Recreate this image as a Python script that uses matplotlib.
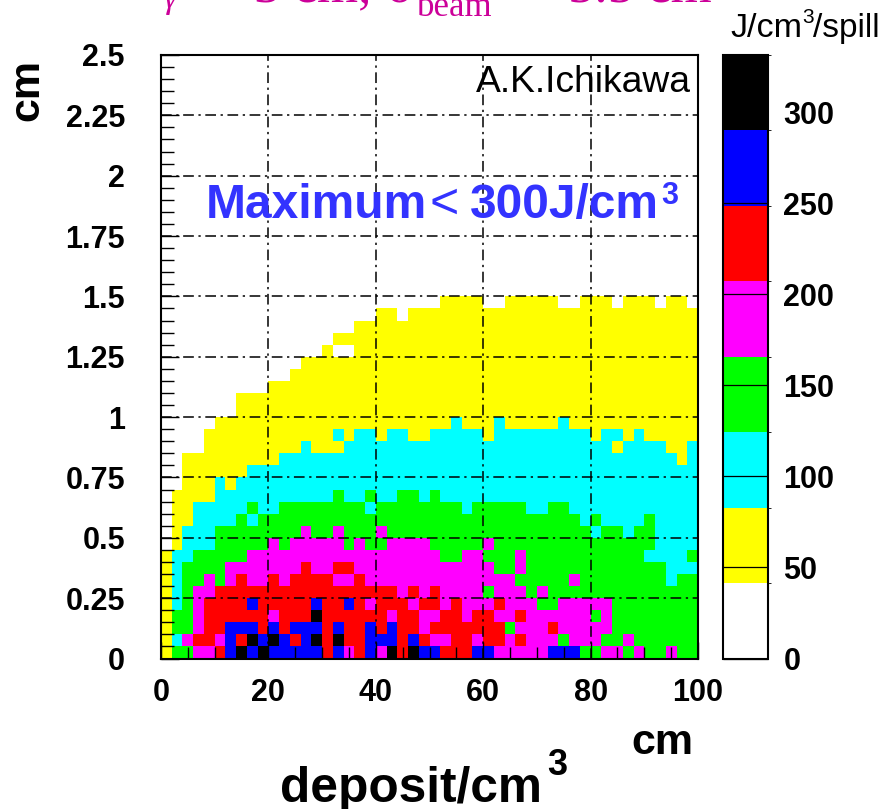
import numpy as np
import matplotlib
matplotlib.use("Agg")
from matplotlib import pyplot as plt
from matplotlib.colors import ListedColormap, BoundaryNorm

# colour band of every cell, bottom row first, left column first
rows = [
    "13344 56767 66666 56456 47576 65556 64444 46663 34434 33433",
    "12455 46576 76567 57556 66565 44554 55454 44344 43343 33333",
    "13345 56665 65666 56556 56554 55555 55344 45444 44333 33333",
    "13345 55555 45557 55555 54554 45545 54454 44444 34333 33333",
    "12345 55565 55556 55654 55545 54544 45444 33444 44333 33333",
    "12344 55555 55555 55555 55454 54444 34443 43333 33333 33333",
    "12334 34544 54555 54454 44444 44444 44433 33343 33333 33233",
    "12333 34444 44454 45544 44444 44444 43343 33333 33333 33222",
    "12233 33344 44444 44444 44444 43344 33343 33333 33333 22223",
    "01222 33333 43444 44343 34444 33333 43333 33333 33333 32222",
    "01222 33333 33343 34333 43333 33333 33333 33333 23323 32222",
    "01122 22323 33333 33333 33333 33333 33333 33332 32222 32222",
    "01122 22232 23333 33332 33333 33323 33332 23322 22222 22222",
    "01111 22222 22222 23223 22332 32222 22222 22222 22222 22222",
    "00111 21222 22222 22222 22222 22222 22222 22222 22222 22222",
    "00111 11122 22222 22222 22222 22222 22222 22222 22222 22222",
    "00111 11111 12222 22222 22222 22222 22222 22222 22222 22212",
    "00001 11111 11121 11222 22222 22222 22222 22222 22122 22112",
    "00001 11111 11111 12122 12211 22222 12222 22222 12212 11111",
    "00000 11111 11111 11111 11111 11211 12111 11211 11111 11111",
    "00000 00111 11111 11111 11111 11111 11111 11111 11111 11111",
    "00000 00111 11111 11111 11111 11111 11111 11111 11111 11111",
    "00000 00000 11111 11111 11111 11111 11111 11111 11111 11111",
    "00000 00000 00111 11111 11111 11111 11111 11111 11111 11111",
    "00000 00000 00011 11111 11111 11111 11111 11111 11111 11111",
    "00000 00000 00000 10011 11111 11111 11111 11111 11111 11111",
    "00000 00000 00000 01111 11111 11111 11111 11111 11111 11111",
    "00000 00000 00000 00011 11111 11111 11111 11111 11111 11111",
    "00000 00000 00000 00000 11011 11111 11111 11111 11111 11111",
    "00000 00000 00000 00000 00000 01111 00111 11001 11011 10110",
]
band_colors = ["white", "#ffff00", "#00ffff", "#00ff00", "#ff00ff", "#ff0000", "#0000ff", "black"]
z_top = 331.3

x_ticks = [0, 20, 40, 60, 80, 100]
y_ticks = [0, 0.25, 0.5, 0.75, 1, 1.25, 1.5, 1.75, 2, 2.25, 2.5]
y_tick_labels = ["0", "0.25", "0.5", "0.75", "1", "1.25", "1.5", "1.75", "2", "2.25", "2.5"]
z_ticks = [0, 50, 100, 150, 200, 250, 300]

W, H = 884, 809
plt.rcParams['font.family'] = ['Liberation Sans', 'DejaVu Sans']


def px_text(x, y, s, **kw):
    # figure text placed in reference pixels, y counted from the top
    return fig.text(x / W, 1 - y / H, s, **kw)


levels = np.array([[int(c) for c in r.replace(" ", "")] for r in rows])
n_bands = len(band_colors)
edges = np.linspace(0, z_top, n_bands + 1)
z = (levels + 0.5) * z_top / n_bands
# rows above the listed ones are all in the white band
z = np.vstack([z, np.full((50 - len(rows), 50), 1.0)])

fig = plt.figure(figsize=(W / 100, H / 100), dpi=100)
ax = fig.add_axes([161 / W, 1 - 658.5 / H, 537 / W, 603.5 / H])

cmap = ListedColormap(band_colors)
norm = BoundaryNorm(edges, cmap.N)
xe = np.linspace(0, 100, 51)
ye = np.linspace(0, 2.5, 51)
mesh = ax.pcolormesh(xe, ye, z, cmap=cmap, norm=norm, zorder=1)

ax.set_xlim(0, 100)
ax.set_ylim(0, 2.5)
ax.set_axisbelow(False)
ax.set_xticks(x_ticks)
ax.set_yticks(y_ticks)
ax.set_yticklabels(y_tick_labels)
ax.set_xticks(np.arange(0, 101, 5), minor=True)
ax.set_yticks(np.arange(0, 2.501, 0.05), minor=True)
ax.tick_params(axis='x', which='major', direction='in', length=12, width=1, pad=14, labelsize=22)
ax.tick_params(axis='x', which='minor', direction='in', length=8.5, width=1)
ax.tick_params(axis='y', which='major', direction='in', length=13, width=1, pad=26, labelsize=22)
ax.tick_params(axis='y', which='minor', direction='in', length=9.5, width=1)
for lab in ax.get_xticklabels() + ax.get_yticklabels():
    lab.set_fontweight('bold')
ax.grid(True, which='major', color='black', lw=1.1, linestyle=(0, (7, 3, 1.5, 3)), zorder=2)
for s in ax.spines.values():
    s.set_linewidth(1.5)
    s.set_zorder(5)

cax = fig.add_axes([723 / W, 1 - 658.5 / H, 45 / W, 603.5 / H])
cb = fig.colorbar(mesh, cax=cax, spacing='proportional', ticks=z_ticks)
cb.outline.set_linewidth(1.5)
cb.ax.tick_params(direction='in', length=32.4, width=0.9, labelsize=22)
cb.ax.yaxis.set_tick_params(pad=11)
for lab in cb.ax.get_yticklabels():
    lab.set_fontweight('bold')

# in-frame notes
px_text(691, 92, "A.K.Ichikawa", fontsize=26.8, ha='right', va='baseline')
blue = "#3333ff"
px_text(206, 218, "Maximum", fontsize=34.5, fontweight='bold', color=blue, va='baseline')
px_text(430, 218, "<", fontsize=36, color=blue, va='baseline')
px_text(470, 218, "300J/cm", fontsize=34.5, fontweight='bold', color=blue, va='baseline')
px_text(661, 204, "3", fontsize=22, fontweight='bold', color=blue, va='baseline')

# axis titles
px_text(47, 90, "cm", fontsize=31, fontweight='bold', rotation=90, ha='right', va='center')
px_text(631, 754, "cm", fontsize=31, fontweight='bold', va='baseline')
px_text(280, 802, "deposit/cm", fontsize=35.7, fontweight='bold', va='baseline')
px_text(547, 775, "3", fontsize=26, fontweight='bold', va='baseline')

# colour bar title
px_text(730, 37, "J/cm", fontsize=24.5, va='baseline')
px_text(802, 23, "3", fontsize=15, va='baseline')
px_text(813, 37, "/spill", fontsize=24, va='baseline')

# headline cut by the top of the picture
pink = "#cc0099"
serif = ['Liberation Serif', 'DejaVu Serif']
px_text(163, 8, "\u03b3", fontsize=24, family=serif, style='italic', color=pink, va='baseline')
px_text(254, 1, "3 cm,", fontsize=38, family=serif, color=pink, va='baseline')
px_text(386, 1, "\u03c3", fontsize=38, family=serif, color=pink, va='baseline')
px_text(417, 16, "beam", fontsize=25, family=serif, color=pink, va='baseline')
px_text(568, 1, "5.5 cm", fontsize=38, family=serif, color=pink, va='baseline')

fig.savefig("out.png", dpi=100)
